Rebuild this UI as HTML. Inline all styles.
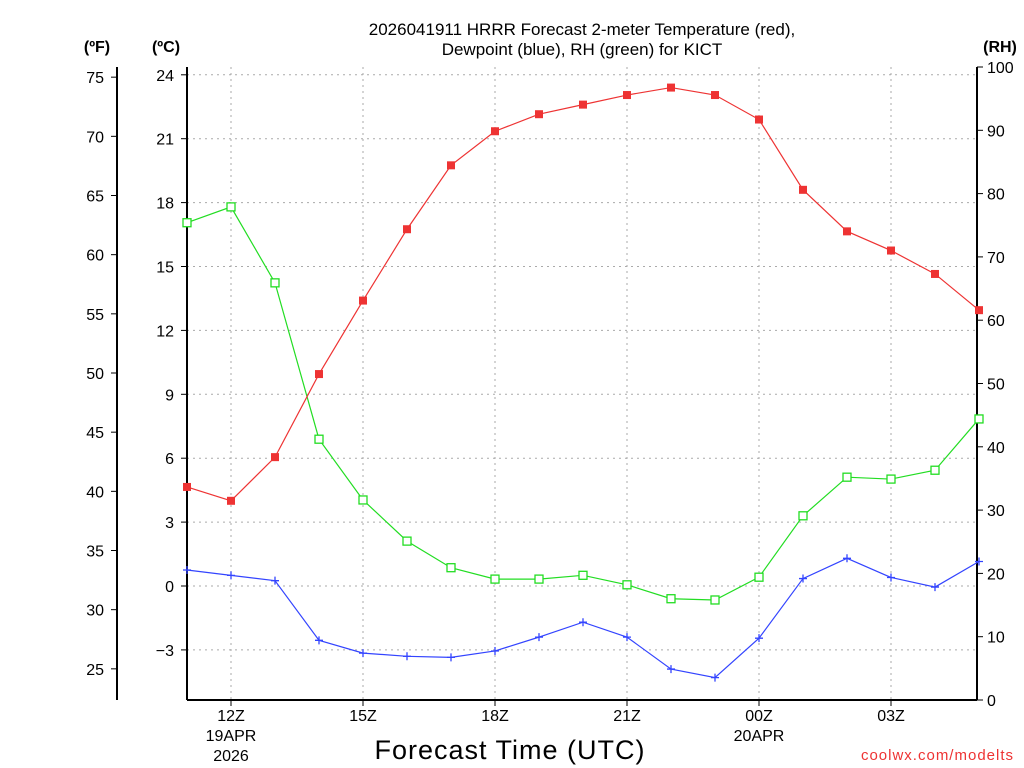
<!DOCTYPE html>
<html><head><meta charset="utf-8"><style>
html,body{margin:0;padding:0;background:#fff;}
svg{display:block;font-family:"Liberation Sans",sans-serif;}
</style></head><body>
<svg id="chart" width="1024" height="768" viewBox="0 0 1024 768">
<g id="grid"></g>
<g id="axes"></g>
<g id="series"></g>
<text x="582" y="35" text-anchor="middle" font-size="17">2026041911 HRRR Forecast 2-meter Temperature (red),</text>
<text x="582" y="55" text-anchor="middle" font-size="17">Dewpoint (blue), RH (green) for KICT</text>
<text x="97" y="52" text-anchor="middle" font-size="16" font-weight="bold">(ºF)</text>
<text x="166" y="52" text-anchor="middle" font-size="16" font-weight="bold">(ºC)</text>
<text x="1000" y="52" text-anchor="middle" font-size="16" font-weight="bold">(RH)</text>
<text x="510" y="759" text-anchor="middle" font-size="27" letter-spacing="1">Forecast Time (UTC)</text>
<text x="1014" y="760" text-anchor="end" font-size="15" fill="#e33" letter-spacing="1">coolwx.com/modelts</text>
</svg>
<script>
const hours=[11,12,13,14,15,16,17,18,19,20,21,22,23,24,25,26,27,28,29];
const tempC=[4.65,4.0,6.05,9.95,13.4,16.75,19.75,21.35,22.15,22.6,23.05,23.4,23.05,21.9,18.6,16.65,15.75,14.65,12.95];
const dewC=[0.75,0.5,0.25,-2.55,-3.15,-3.3,-3.35,-3.05,-2.4,-1.7,-2.4,-3.9,-4.3,-2.45,0.35,1.3,0.4,-0.05,1.15];
const rh=[75.4,77.9,65.9,41.2,31.6,25.1,20.9,19.1,19.1,19.7,18.2,16.0,15.8,19.4,29.1,35.2,34.9,36.3,44.4];
const xTickHours=[12,15,18,21,24,27];
const xTickLabels=["12Z","15Z","18Z","21Z","00Z","03Z"];
const cTicks=[-3,0,3,6,9,12,15,18,21,24];
const fTicks=[25,30,35,40,45,50,55,60,65,70,75];
const rhTicks=[0,10,20,30,40,50,60,70,80,90,100];

const L=187,R=977,T=67,B=700;
const x=h=>L+(h-11)*44;
const yC=c=>586-c*21.3;
const yF=f=>yC((f-32)*5/9);
const yRH=v=>B-v*6.33;
const NS="http://www.w3.org/2000/svg";
function mk(tag,attrs,parent,txt){const e=document.createElementNS(NS,tag);for(const k in attrs)e.setAttribute(k,attrs[k]);if(txt!==undefined)e.textContent=txt;document.getElementById(parent).appendChild(e);return e;}

// grid
xTickHours.forEach(h=>{const e=mk('line',{x1:x(h),x2:x(h),y1:T,y2:B,stroke:'#aaa','stroke-dasharray':'2,4'},'grid');

});
cTicks.forEach(c=>{const e=mk('line',{x1:L,x2:R,y1:yC(c),y2:yC(c),stroke:'#aaa','stroke-dasharray':'2,4'},'grid');

});

// axes frame
let a=mk('line',{x1:L,x2:L,y1:T,y2:B,stroke:'#000','stroke-width':2},'axes');


a=mk('line',{x1:R,x2:R,y1:T,y2:B,stroke:'#000','stroke-width':2},'axes');


a=mk('line',{x1:L,x2:R,y1:B,y2:B,stroke:'#000','stroke-width':2},'axes');


a=mk('line',{x1:117,x2:117,y1:T,y2:B,stroke:'#000','stroke-width':2},'axes');



cTicks.forEach(c=>{const l=mk('line',{x1:L-6,x2:L,y1:yC(c),y2:yC(c),stroke:'#000'},'axes');


const t=mk('text',{x:174,y:yC(c)+6,'text-anchor':'end','font-size':16},'axes',c<0?'\u2212'+(-c):String(c));

});
fTicks.forEach(f=>{const l=mk('line',{x1:111,x2:117,y1:yF(f),y2:yF(f),stroke:'#000'},'axes');


const t=mk('text',{x:104,y:yF(f)+6,'text-anchor':'end','font-size':16},'axes',String(f));

});
rhTicks.forEach(v=>{const l=mk('line',{x1:R,x2:R+6,y1:yRH(v),y2:yRH(v),stroke:'#000'},'axes');


const t=mk('text',{x:987,y:yRH(v)+6,'font-size':16},'axes',String(v));

});
xTickHours.forEach((h,i)=>{const l=mk('line',{x1:x(h),x2:x(h),y1:B,y2:B+6,stroke:'#000'},'axes');


const t=mk('text',{x:x(h),y:721,'text-anchor':'middle','font-size':16},'axes',xTickLabels[i]);

});
let d=mk('text',{x:x(12),y:741,'text-anchor':'middle','font-size':16},'axes','19APR');


d=mk('text',{x:x(12),y:761,'text-anchor':'middle','font-size':16},'axes','2026');


d=mk('text',{x:x(24),y:741,'text-anchor':'middle','font-size':16},'axes','20APR');



function series(vals,yf,color,name,marker){
 const pts=vals.map((v,i)=>x(hours[i])+','+yf(v)).join(' ');
 const p=mk('polyline',{points:pts,fill:'none',stroke:color,'stroke-width':1.2},'series');
 
 
 vals.forEach((v,i)=>{const cx=x(hours[i]),cy=yf(v);let m;
  if(marker==='fill') m=mk('rect',{x:cx-4,y:cy-4,width:8,height:8,fill:color},'series');
  else if(marker==='open') m=mk('rect',{x:cx-4,y:cy-4,width:8,height:8,fill:'#fff',stroke:color,'stroke-width':1.3},'series');
  else m=mk('path',{d:`M${cx-4} ${cy}H${cx+4}M${cx} ${cy-4}V${cy+4}`,stroke:color,'stroke-width':1.3},'series');
  
  });
}
series(rh,yRH,'#22dd22','rh','open');
series(dewC,yC,'#3344ff','dewpoint','plus');
series(tempC,yC,'#ee3333','temperature','fill');
</script>
</body></html>
